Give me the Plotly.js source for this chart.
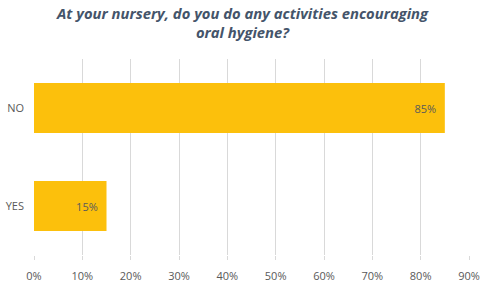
<!DOCTYPE html>
<html><head><meta charset="utf-8">
<script src="https://cdn.plot.ly/plotly-3.0.1.min.js"></script>
<style>html,body{margin:0;padding:0;background:#fff}#c{width:486px;height:282px}</style>
</head><body><div id="c"></div>
<script>
const categories = ["YES", "NO"];
const values = [0.15, 0.85];
const labels = ["15%", "85%"];
const tickVals = [0,0.1,0.2,0.3,0.4,0.5,0.6,0.7,0.8,0.9];
const tickText = ["0%","10%","20%","30%","40%","50%","60%","70%","80%","90%"];
const titleText = "At your nursery, do you do any activities encouraging<br>oral hygiene?";

Plotly.newPlot("c", [{
  type: "bar", orientation: "h",
  y: categories, x: values,
  text: labels.map(s => s + "  "),
  textposition: "inside", insidetextanchor: "end",
  textfont: {family: "Open Sans, sans-serif", size: 11, color: "#5a5a5a"},
  marker: {color: "#FCC00C", line: {width: 0}},
  width: 0.51, hoverinfo: "none", cliponaxis: false
}], {
  width: 486, height: 282,
  margin: {l: 34, r: 17, t: 59, b: 27},
  paper_bgcolor: "#fff", plot_bgcolor: "#fff",
  showlegend: false,
  annotations: [{
    text: "<b><i>" + titleText + "</i></b>",
    xref: "paper", yref: "paper", x: 0.48, y: 1.185,
    xanchor: "center", yanchor: "middle", showarrow: false,
    font: {family: "Open Sans, sans-serif", size: 14.8, color: "#44546A"}
  }],
  xaxis: {range: [0, 0.9], tickvals: tickVals, ticktext: tickText,
    showgrid: true, gridcolor: "#D9D9D9", gridwidth: 1, zeroline: false,
    showline: false, ticks: "outside", ticklen: 4, tickcolor: "#D9D9D9", ticklabelstandoff: 7,
    tickfont: {family: "Open Sans, sans-serif", size: 11, color: "#595959"}},
  yaxis: {range: [-0.5, 1.5], showgrid: false, zeroline: false, showline: false,
    ticks: "", ticklabelstandoff: 9,
    tickfont: {family: "Open Sans, sans-serif", size: 11, color: "#595959"}}
}, {staticPlot: true, displayModeBar: false});
</script></body></html>
